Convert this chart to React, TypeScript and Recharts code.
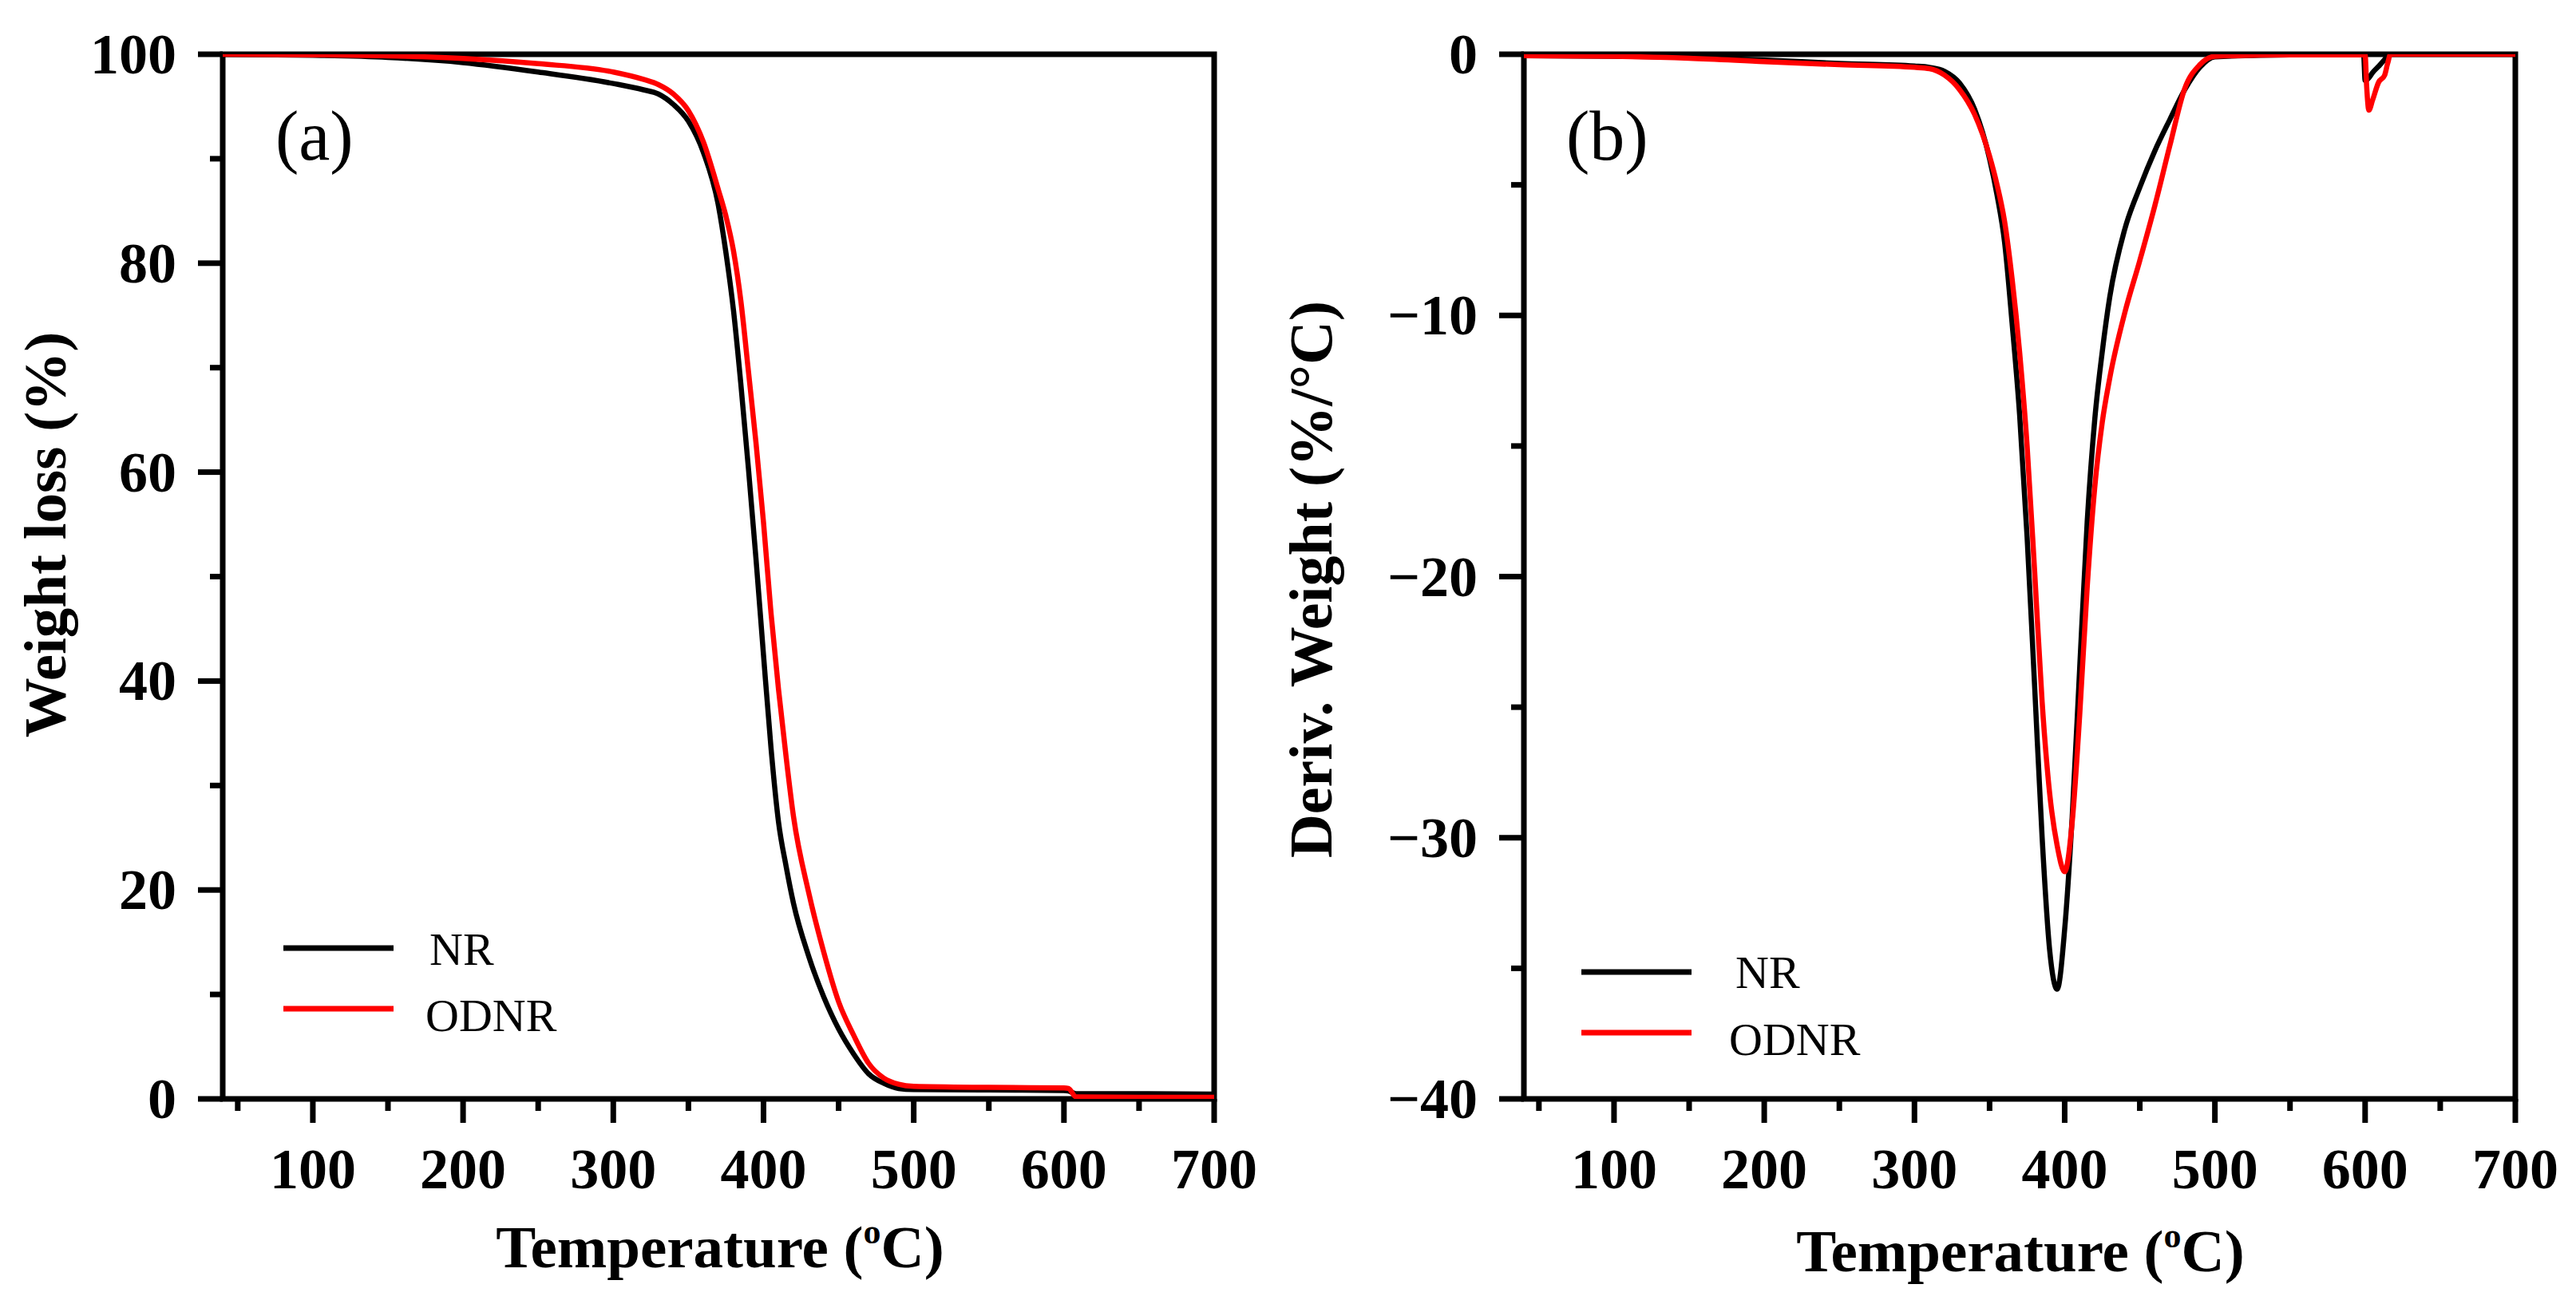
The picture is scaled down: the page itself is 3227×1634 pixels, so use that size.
import React from "react";
import { LineChart, Line, XAxis, YAxis, ReferenceArea } from "recharts";

// TGA (panel a): temperature (°C) and weight (%)
const TGA_TEMP = [
  40, 100, 150, 200, 250, 300, 320, 330, 340, 350, 360, 370, 375, 380, 385, 390, 395,
  400, 405, 410, 415, 420, 430, 440, 450, 460, 470, 480, 490, 500, 550, 600, 603,
  608, 650, 700,
];
const TGA_NR = [
  100, 99.9, 99.7, 99.2, 98.3, 97.2, 96.6, 96.2, 95.2, 93.6, 90.6, 85.5, 81.0, 75.5,
  68.3, 60.3, 51.7, 42.5, 33.6, 26.5, 22.3, 18.7, 13.7, 9.8, 6.7, 4.3, 2.4, 1.5, 1.0,
  0.9, 0.85, 0.8, 0.75, 0.5, 0.5, 0.45,
];
const TGA_ODNR = [
  100, 99.95, 99.85, 99.6, 99.1, 98.3, 97.6, 97.1, 96.2, 94.6, 91.6, 87.0, 84.5, 81.2,
  76.3, 69.6, 62.8, 55.2, 46.5, 39.2, 32.8, 27, 19.8, 14.1, 9.3, 6.1, 3.4, 2.0, 1.4,
  1.2, 1.1, 1.05, 1.0, 0.2, 0.15, 0.15,
];

// DTG (panel b): derivative weight (%/°C)
const DTG_TEMP = [
  40, 100, 150, 200, 250, 300, 310, 320, 330, 340, 350, 355, 360, 365, 370, 375, 380,
  385, 390, 395, 400, 405, 410, 415, 420, 425, 430, 440, 450, 460, 470, 480, 490, 500,
  550, 599, 600, 601, 602.5, 605, 609, 613, 615, 617, 650, 700,
];
const DTG_NR = [
  -0.05, -0.08, -0.12, -0.22, -0.35, -0.45, -0.5, -0.65, -1.1, -2.1, -4.0, -5.4, -7.2,
  -10.3, -13.8, -18.5, -24.2, -30.0, -34.3, -35.8, -33.5, -29.2, -23.5, -17.9, -14.0,
  -11.4, -9.3, -6.7, -5.1, -3.7, -2.5, -1.35, -0.5, -0.1, -0.02, -0.02, -1.0, -0.98,
  -0.9, -0.7, -0.46, -0.2, -0.05, 0, 0, 0,
];
const DTG_ODNR = [
  -0.05, -0.08, -0.15, -0.28, -0.4, -0.5, -0.55, -0.8, -1.35, -2.3, -3.9, -5.0, -6.4,
  -8.6, -11.4, -15.0, -19.8, -24.8, -28.3, -30.3, -31.3, -29.4, -25.3, -20.4, -16.6,
  -14.1, -12.4, -9.9, -7.9, -5.8, -3.5, -1.3, -0.4, -0.08, -0.02, -0.02, -0.02, -1.2,
  -2.14, -1.75, -1.07, -0.8, -0.35, 0, 0, 0,
];

const X_TICKS = [50, 100, 150, 200, 250, 300, 350, 400, 450, 500, 550, 600, 650, 700];
const Y_TICKS_A = [0, 10, 20, 30, 40, 50, 60, 70, 80, 90, 100];
const Y_TICKS_B = [-40, -35, -30, -25, -20, -15, -10, -5, 0];

const SERIES = ["NR", "ODNR"];
const COLORS = ["#000000", "#ff0000"];

const FONT = '"Liberation Serif", "Times New Roman", serif';
const W = 1600;
const H = 1634;
const Y_AXIS_W = 200;
const X_AXIS_H = 200;
const MARGIN = { top: 68, left: 279 - Y_AXIS_W, right: 79, bottom: 257 - X_AXIS_H };

const tgaData = TGA_TEMP.map((t, i) => ({ t, nr: TGA_NR[i], odnr: TGA_ODNR[i] }));
const dtgData = DTG_TEMP.map((t, i) => ({ t, nr: DTG_NR[i], odnr: DTG_ODNR[i] }));

function XTick({ x, y, payload }: any) {
  const v = payload.value;
  const major = v % 100 === 0;
  return (
    <g>
      <line x1={x} x2={x} y1={y} y2={y + (major ? 30 : 15)} stroke="#000" strokeWidth={7} />
      {major && (
        <text x={x} y={y + 112} textAnchor="middle" fontFamily={FONT} fontWeight="bold" fontSize={72} fill="#000">
          {v}
        </text>
      )}
    </g>
  );
}

function makeYTick(step: number) {
  return function YTick({ x, y, payload }: any) {
    const v = payload.value;
    const major = v % step === 0;
    const label = v < 0 ? "\u2212" + Math.abs(v) : String(v);
    return (
      <g>
        <line x1={x - (major ? 31 : 16)} x2={x} y1={y} y2={y} stroke="#000" strokeWidth={7} />
        {major && (
          <text x={x - 58} y={y + 24} textAnchor="end" fontFamily={FONT} fontWeight="bold" fontSize={72} fill="#000">
            {label}
          </text>
        )}
      </g>
    );
  };
}

const YTickA = makeYTick(20);
const YTickB = makeYTick(10);

function Panel({ data, yDomain, yTicks, YTick }: any) {
  return (
    <LineChart width={W} height={H} data={data} margin={MARGIN}>
      <XAxis
        type="number"
        dataKey="t"
        domain={[40, 700]}
        ticks={X_TICKS}
        interval={0}
        height={X_AXIS_H}
        tickSize={0}
        tickMargin={0}
        tickLine={false}
        axisLine={false}
        tick={(p: any) => <XTick {...p} />}
      />
      <YAxis
        type="number"
        domain={yDomain}
        ticks={yTicks}
        interval={0}
        width={Y_AXIS_W}
        tickSize={0}
        tickMargin={0}
        tickLine={false}
        axisLine={false}
        allowDataOverflow
        tick={(p: any) => <YTick {...p} />}
      />
      <ReferenceArea
        x1={40}
        x2={700}
        y1={yDomain[0]}
        y2={yDomain[1]}
        fill="none"
        fillOpacity={0}
        stroke="#000"
        strokeWidth={7}
      />
      <Line type="monotone" dataKey="nr" stroke={COLORS[0]} strokeWidth={6.5} dot={false} isAnimationActive={false} />
      <Line type="monotone" dataKey="odnr" stroke={COLORS[1]} strokeWidth={6.5} dot={false} isAnimationActive={false} />
    </LineChart>
  );
}

function TempTitle({ cx, y }: { cx: number; y: number }) {
  return (
    <text x={cx} y={y} textAnchor="middle" fontFamily={FONT} fontWeight="bold" fontSize={75} fill="#000">
      Temperature (
      <tspan fontSize={44} dy={-30}>o</tspan>
      <tspan dy={30}>C)</tspan>
    </text>
  );
}

function LegendBox({ x, ys, textXs, textYs }: any) {
  return (
    <g>
      {SERIES.map((s, i) => (
        <g key={s}>
          <line x1={x} x2={x + 138} y1={ys[i]} y2={ys[i]} stroke={COLORS[i]} strokeWidth={7} />
          <text x={textXs[i]} y={textYs[i]} fontFamily={FONT} fontSize={58} fill="#000">
            {s}
          </text>
        </g>
      ))}
    </g>
  );
}

export default function App() {
  return (
    <div style={{ position: "absolute", left: 0, top: 0, width: 3227, height: 1634, background: "#fff" }}>
      <div style={{ position: "absolute", left: 0, top: 0 }}>
        <Panel data={tgaData} yDomain={[0, 100]} yTicks={Y_TICKS_A} YTick={YTickA} />
      </div>
      <div style={{ position: "absolute", left: 1630, top: 0 }}>
        <Panel data={dtgData} yDomain={[-40, 0]} yTicks={Y_TICKS_B} YTick={YTickB} />
      </div>
      <svg
        width={3227}
        height={1634}
        style={{ position: "absolute", left: 0, top: 0, pointerEvents: "none" }}
      >
        <text
          transform="translate(82,670) rotate(-90)"
          textAnchor="middle"
          fontFamily={FONT}
          fontWeight="bold"
          fontSize={75}
          fill="#000"
        >
          Weight loss (%)
        </text>
        <text
          transform="translate(1668,726) rotate(-90)"
          textAnchor="middle"
          fontFamily={FONT}
          fontWeight="bold"
          fontSize={76}
          fill="#000"
        >
          Deriv. Weight (%/°C)
        </text>
        <TempTitle cx={902} y={1588} />
        <TempTitle cx={2531} y={1593} />
        <text x={345} y={200} fontFamily={FONT} fontSize={88} fill="#000">(a)</text>
        <text x={1962} y={200} fontFamily={FONT} fontSize={88} fill="#000">(b)</text>
        <LegendBox x={355} ys={[1188, 1264]} textXs={[538, 533]} textYs={[1209, 1292]} />
        <LegendBox x={1981} ys={[1218, 1294]} textXs={[2174, 2166]} textYs={[1238, 1322]} />
      </svg>
    </div>
  );
}
